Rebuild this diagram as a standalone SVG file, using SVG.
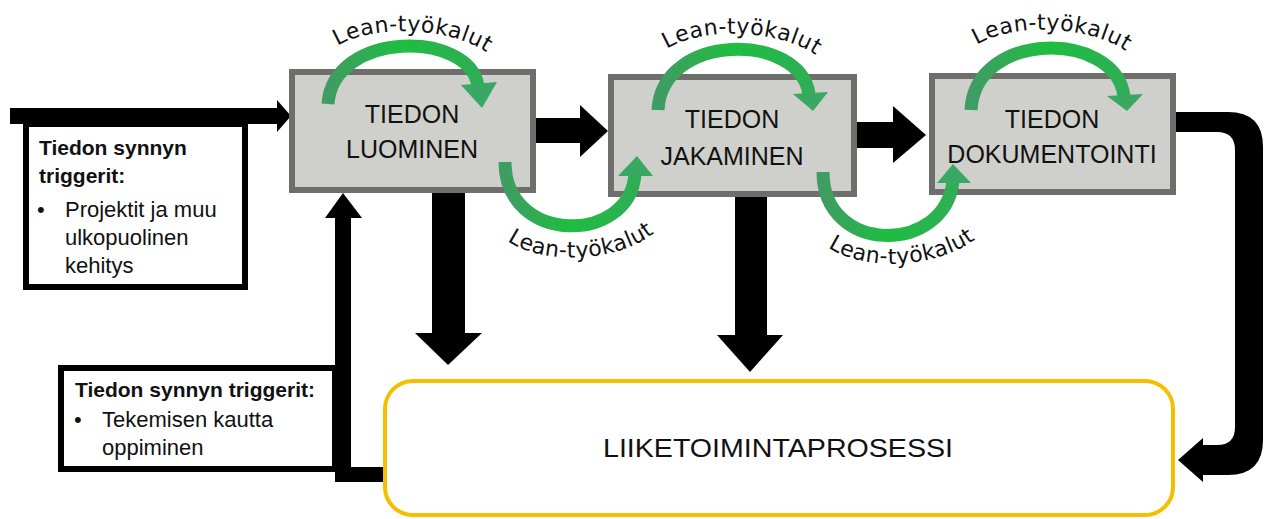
<svg xmlns="http://www.w3.org/2000/svg" width="1264" height="519" viewBox="0 0 1264 519">
<style>
.box{fill:#cfcfcc;stroke:#6e6e6a;stroke-width:6}
.tbox{fill:#fff;stroke:#000;stroke-width:6}
.ybox{fill:#fff;stroke:#f5bf00;stroke-width:4}
.bt{font-family:"Liberation Sans",Arial,sans-serif;font-size:25px;fill:#111;text-anchor:middle}
.tt{font-family:"Liberation Sans",Arial,sans-serif;font-size:22px;fill:#111}
.tb{font-family:"Liberation Sans",Arial,sans-serif;font-size:21px;font-weight:bold;fill:#111}
.lean{font-family:"DejaVu Sans",Verdana,sans-serif;font-size:22px;fill:#111;letter-spacing:0.4px}
.blk{fill:#000}
.garc{fill:none;stroke:url(#g);stroke-width:13}
.ghead{fill:#39a862}
</style>
<defs>
<linearGradient id="g" x1="0" y1="0" x2="1" y2="0">
<stop offset="0" stop-color="#3f9c63"/>
<stop offset="0.5" stop-color="#1fbd41"/>
<stop offset="1" stop-color="#2fae55"/>
</linearGradient>
<path id="t1" d="M320,68 C330,18 480,18 506,74"/>
<path id="t2" d="M648,72 C660,20 810,20 836,78"/>
<path id="t3" d="M958,68 C970,16 1120,16 1146,74"/>
<path id="t4" d="M492,224 C515,270 635,270 670,216"/>
<path id="t5" d="M812,230 C835,276 955,276 992,222"/>
</defs>

<g id="connectors">
<rect class="blk" x="10" y="108" width="268" height="16"/>
<polygon class="blk" points="277,100 291,116 277,132"/>
<rect class="blk" x="536" y="118" width="45" height="25"/>
<polygon class="blk" points="580,105 608,131 580,157"/>
<rect class="blk" x="857" y="122" width="37" height="26"/>
<polygon class="blk" points="893,106 926,135 893,163"/>
<rect class="blk" x="432" y="193" width="33" height="141"/>
<polygon class="blk" points="415,333 482,333 448,365"/>
<rect class="blk" x="735" y="197" width="32" height="139"/>
<polygon class="blk" points="717,335 783,335 750,372"/>
<rect class="blk" x="335" y="216" width="16" height="266"/>
<rect class="blk" x="335" y="467" width="50" height="15"/>
<polygon class="blk" points="325,218 343,193 362,218"/>
<path class="blk" d="M1176,112 H1228 Q1263,112 1263,147 V440 Q1263,475 1228,475 H1203 V482 L1178,460 L1203,438 V445 H1217 Q1235,445 1235,427 V150 Q1235,132 1217,132 H1176 Z"/>
</g>

<g id="trigger1">
<rect class="tbox" x="26" y="124" width="219" height="163"/>
<text class="tb" x="39" y="155">Tiedon synnyn</text>
<text class="tb" x="39" y="183">triggerit:</text>
<text class="tt" x="37" y="217">•</text>
<text class="tt" x="65" y="217">Projektit ja muu</text>
<text class="tt" x="65" y="245">ulkopuolinen</text>
<text class="tt" x="65" y="273">kehitys</text>
</g>

<g id="trigger2">
<rect class="tbox" x="61" y="368" width="274" height="101"/>
<text class="tb" x="75" y="397">Tiedon synnyn triggerit:</text>
<text class="tt" x="74" y="427">•</text>
<text class="tt" x="102" y="427">Tekemisen kautta</text>
<text class="tt" x="102" y="455">oppiminen</text>
</g>

<g id="process">
<rect class="ybox" x="385" y="381" width="788" height="134" rx="28"/>
<text class="bt" x="778" y="457" font-size="29" textLength="350" lengthAdjust="spacingAndGlyphs">LIIKETOIMINTAPROSESSI</text>
</g>

<g id="luominen">
<rect class="box" x="292" y="72" width="241" height="118"/>
<text class="bt" x="412" y="123">TIEDON</text>
<text class="bt" x="412" y="158">LUOMINEN</text>
</g>

<g id="jakaminen">
<rect class="box" x="611" y="77" width="243" height="117"/>
<text class="bt" x="732" y="128">TIEDON</text>
<text class="bt" x="732" y="165">JAKAMINEN</text>
</g>

<g id="dokumentointi">
<rect class="box" x="932" y="76" width="241" height="116"/>
<text class="bt" x="1052" y="128">TIEDON</text>
<text class="bt" x="1052" y="163">DOKUMENTOINTI</text>
</g>

<g id="lean-tools">
<path class="garc" d="M328,104 C333,30 470,30 478,86"/>
<polygon class="ghead" points="461,85 497,82 482,108"/>
<path class="garc" d="M658,110 C662,32 800,32 809,94"/>
<polygon class="ghead" points="793,94 828,92 813,111"/>
<path class="garc" d="M971,110 C975,30 1115,30 1124,96"/>
<polygon class="ghead" points="1107,96 1143,94 1127,111"/>
<path class="garc" d="M505,162 C505,245 630,245 635,174"/>
<polygon class="ghead" points="618,176 653,176 637,156"/>
<path class="garc" d="M823,172 C823,255 945,255 953,181"/>
<polygon class="ghead" points="937,183 971,183 953,164"/>
<text class="lean"><textPath href="#t1" startOffset="50%" text-anchor="middle">Lean-työkalut</textPath></text>
<text class="lean"><textPath href="#t2" startOffset="50%" text-anchor="middle">Lean-työkalut</textPath></text>
<text class="lean"><textPath href="#t3" startOffset="50%" text-anchor="middle">Lean-työkalut</textPath></text>
<text class="lean"><textPath href="#t4" startOffset="50%" text-anchor="middle">Lean-työkalut</textPath></text>
<text class="lean"><textPath href="#t5" startOffset="50%" text-anchor="middle">Lean-työkalut</textPath></text>
</g>
</svg>
